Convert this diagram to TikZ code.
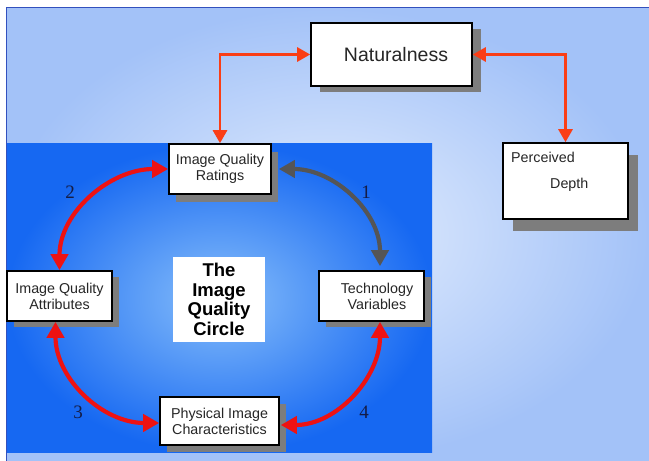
\documentclass[tikz,border=0pt]{standalone}
\usepackage{fontspec}
\setmainfont{Liberation Sans}
\newfontfamily\numfont{Liberation Serif}
\usetikzlibrary{arrows.meta,shadows}

\definecolor{bgouter}{RGB}{163,194,248}
\definecolor{bginner}{RGB}{228,238,253}
\definecolor{blueouter}{RGB}{22,104,242}
\definecolor{blueinner}{RGB}{135,190,250}
\definecolor{toparrow}{RGB}{250,62,22}
\definecolor{circred}{RGB}{238,18,18}
\definecolor{circgray}{RGB}{85,85,85}
\definecolor{shadowgray}{RGB}{125,125,125}
\definecolor{numcol}{RGB}{20,28,70}
\definecolor{framecol}{RGB}{50,80,190}

\begin{document}
\begin{tikzpicture}[x=1pt,y=1pt,
  box/.style={draw=black, line width=1.6pt, fill=white, inner sep=0pt, align=center,
    text=black!85, font=\fontsize{14.3}{16}\selectfont},
  shad/.style 2 args={drop shadow={shadow xshift=#1, shadow yshift=#2, opacity=1, fill=shadowgray, draw=none}},
  toparr/.style={draw=toparrow, line width=2.8pt,
    {Triangle[width=14pt,length=13pt]}-{Triangle[width=14pt,length=13pt]}},
  circarr/.style={line width=4.2pt,
    {Triangle[width=17pt,length=16pt]}-{Triangle[width=17pt,length=16pt]}},
  num/.style={font=\numfont\fontsize{19}{19}\selectfont, text=numcol}]

\useasboundingbox (0,0) rectangle (649,461);
\fill[white] (0,0) rectangle (649,461);
\shade[inner color=bginner, outer color=bgouter] (6,0) rectangle (649,453);
\draw[framecol, line width=1pt] (6,0) -- (6,453) -- (649,453);
\shade[inner color=blueinner, outer color=blueouter] (7,8) rectangle (432,317);

% boxes
\node[box, shad={9pt}{-6pt}, minimum width=161pt, minimum height=63pt,
      font=\fontsize{19.5}{22}\selectfont] (nat) at (391.5,406.5) {\hspace*{9pt}Naturalness};
\node[box, shad={10pt}{-12pt}, minimum width=125pt, minimum height=76pt] (per) at (565.5,280) {};
\node[anchor=west, inner sep=0pt, text=black!85, font=\fontsize{14.3}{16}\selectfont] (pertxt) at (511,304) {Perceived};
\node[anchor=west, inner sep=0pt, text=black!85, font=\fontsize{14.3}{16}\selectfont] (deptxt) at (550,276) {Depth};

\node[box, shad={7pt}{-8pt}, minimum width=102pt, minimum height=50pt] (iqr) at (220,292) {Image Quality\\Ratings};
\node[box, shad={7pt}{-6pt}, minimum width=105pt, minimum height=50pt] (iqa) at (59.5,165) {Image Quality\\Attributes};
\node[box, shad={7pt}{-6pt}, minimum width=105pt, minimum height=50pt] (tv) at (371.5,165)
  {\hspace*{11pt}Technology\\\hspace*{11pt}Variables};
\node[box, shad={7pt}{-7pt}, minimum width=119pt, minimum height=48pt] (pic) at (219.5,40) {Physical Image\\Characteristics};
\node[fill=white, minimum width=92pt, minimum height=85pt, inner sep=0pt, align=center,
      font=\bfseries\fontsize{18.5}{19.5}\selectfont] (circ) at (219,161.5) {The\\Image\\Quality\\Circle};

% top connectors
\draw[toparr] (nat.west) -| (iqr.north);
\draw[toparr] (nat.east) -| (per.north);

% circle connectors
\draw[circarr, circred] (iqa.north) to[out=90,in=180] (iqr.west);
\draw[circarr, circgray] ([xshift=7pt]iqr.east) to[out=0,in=90] ([xshift=8.5pt,yshift=4pt]tv.north);
\draw[circarr, circred] ([xshift=-4pt]iqa.south) to[out=-90,in=180] ([yshift=-2pt]pic.west);
\draw[circarr, circred] ([xshift=8.5pt]tv.south) to[out=-90,in=0] ([xshift=1pt,yshift=-4pt]pic.east);

% numbers
\node[num] (n1) at (366,269) {1};
\node[num] (n2) at (70,269) {2};
\node[num] (n3) at (78,49) {3};
\node[num] (n4) at (364,49) {4};
\end{tikzpicture}
\end{document}
